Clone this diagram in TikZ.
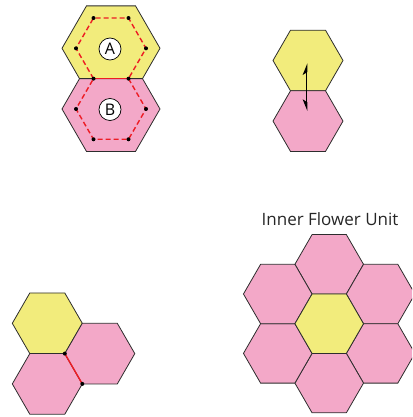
\documentclass[tikz,border=0pt]{standalone}
\usepackage{fontspec}
\setmainfont{Open Sans}
\usetikzlibrary{arrows.meta}
\definecolor{hexyellow}{RGB}{242,236,124}
\definecolor{hexpink}{RGB}{243,168,200}
\definecolor{dashred}{RGB}{237,28,36}
\definecolor{edgegray}{RGB}{45,45,45}
% flat-topped hexagon around a named centre, circumradius #2
\newcommand\hexat[2]{(#1) ++(#2,0) -- ++(120:#2) -- ++(180:#2) -- ++(240:#2) -- ++(300:#2) -- ++(0:#2) -- cycle}
\begin{document}
\begin{tikzpicture}[x=1pt,y=-1pt,
  outline/.style={draw=edgegray, line width=0.8pt},
  yel/.style={outline, fill=hexyellow},
  pnk/.style={outline, fill=hexpink},
  reddash/.style={draw=dashred, line width=1.4pt, dash pattern=on 5pt off 3pt},
  redline/.style={draw=dashred, line width=1.4pt},
  dot/.style={circle, fill=black, inner sep=0pt, minimum size=4pt},
  label/.style={circle, draw=black, fill=white, line width=0.7pt, inner sep=0pt,
    minimum size=22pt, font=\fontsize{16}{18}\selectfont},
  title/.style={font=\fontsize{17}{20}\selectfont, text=black!85},
  harpoon/.style={line width=1.3pt}
]
\useasboundingbox (0,0) rectangle (412,417);
\clip (0,0) rectangle (412,417);

% ---- Top-left: overlapping hexes A and B ----
\path[yel] (62,48.3) -- (86.5,5.86) -- (135.5,5.86) -- (160,48.3)
  -- (142.5,78.65) -- (79.5,78.65) -- cycle;
\path[pnk] (79.5,78.65) -- (142.5,78.65) -- (160,109) -- (135.5,151.44)
  -- (86.5,151.44) -- (62,109) -- cycle;

% inner dashed hexes
\coordinate (a1) at (76,48.34);
\coordinate (a2) at (93.5,18.03);
\coordinate (a3) at (128.5,18.03);
\coordinate (a4) at (146,48.34);
\coordinate (a5) at (128.5,78.65);
\coordinate (a6) at (93.5,78.65);
\coordinate (b3) at (146,108.96);
\coordinate (b4) at (128.5,139.27);
\coordinate (b5) at (93.5,139.27);
\coordinate (b6) at (76,108.96);
\draw[reddash] (a6) -- (a1) -- (a2) -- (a3) -- (a4) -- (a5);
\draw[reddash] (a5) -- (b3) -- (b4) -- (b5) -- (b6) -- (a6);
\draw[redline] (a6) -- (a5);
\foreach \p in {a1,a2,a3,a4,a5,a6,b3,b4,b5,b6}
  \node[dot] at (\p) {};

\node[label] (lA) at (110,49) {A};
\node[label] (lB) at (110,109.5) {B};

% ---- Top-right: two hexes with harpoon arrow ----
\coordinate (ty) at (308,60.5);
\coordinate (tp) at (308,121.1);
\path[yel] \hexat{ty}{35};
\path[pnk] \hexat{tp}{35};
\coordinate (atop) at (306.7,63.3);
\coordinate (amid) at (306.7,87);
\coordinate (abot) at (306.7,111);
\draw[harpoon, -{Stealth[left, length=10pt, width=8pt, inset=2.5pt]}] (amid) -- (atop);
\draw[harpoon, -{Stealth[right, length=10pt, width=8pt, inset=2.5pt]}] (amid) -- (abot);

% ---- Bottom-left: three hexes ----
\coordinate (by) at (47.3,323.3);
\coordinate (bp) at (47.3,383.9);
\coordinate (br) at (99.8,353.6);
\path[yel] \hexat{by}{35};
\path[pnk] \hexat{bp}{35};
\path[pnk] \hexat{br}{35};
\coordinate (e1) at (64.8,353.6);
\coordinate (e2) at (82.3,383.9);
\draw[redline] (e1) -- (e2);
\node[dot] at (e1) {};
\node[dot] at (e2) {};

% ---- Bottom-right: inner flower unit ----
\node[title] (ttl) at (330,219) {Inner Flower Unit};
\coordinate (f1) at (329.2,264.3);
\coordinate (f2) at (380.65,294.0);
\coordinate (f3) at (380.65,353.4);
\coordinate (f4) at (329.2,383.1);
\coordinate (f5) at (277.75,353.4);
\coordinate (f6) at (277.75,294.0);
\coordinate (fc) at (329.2,323.7);
\foreach \c in {f1,f2,f3,f4,f5,f6}
  \path[pnk] \hexat{\c}{34.3};
\path[yel] \hexat{fc}{34.3};
\end{tikzpicture}
\end{document}
